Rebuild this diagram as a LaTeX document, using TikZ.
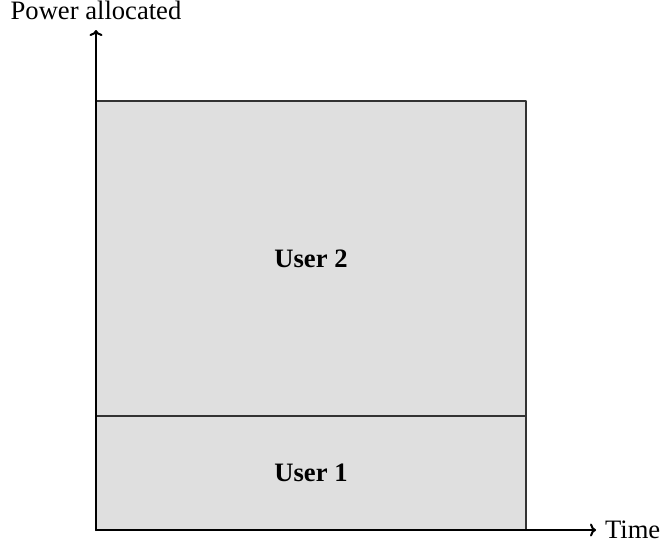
\documentclass[tikz,border=0pt]{standalone}
\usepackage{fontspec}
\setmainfont{Liberation Serif}
\usetikzlibrary{positioning,arrows.meta}

\begin{document}
\begin{tikzpicture}[line cap=round,line join=round,>={To[length=3pt,width=6.5pt]},x=50pt,y=50pt,
	every node/.style={font=\fontsize{13.3}{16}\selectfont},
	share/.style={draw=black!80,line width=0.6pt,fill=gray!25},
	axis/.style={->,line width=1pt}]
		\useasboundingbox (-0.96,-0.18) rectangle (5.67,5.30);
		\coordinate (O) at (0,0);
		\coordinate (ytip) at (0,5.0);
		\coordinate (xtip) at (5.0,0);
		% power shares of the two users
		\draw[share] (0,0) rectangle (4.30,1.14);
		\draw[share] (0,1.14) rectangle (4.30,4.29);
		\node[font=\fontsize{13.3}{16}\selectfont\bfseries] (user1) at (2.15,0.57) {User 1};
		\node[font=\fontsize{13.3}{16}\selectfont\bfseries] (user2) at (2.15,2.715) {User 2};
		% axes
		\draw[axis] (O) -- (ytip);
		\draw[axis] (O) -- (xtip);
		\node[above=1.5pt of ytip] (power) {Power allocated};
		\node[right=1pt of xtip] (time) {Time};
	\end{tikzpicture}
\end{document}
